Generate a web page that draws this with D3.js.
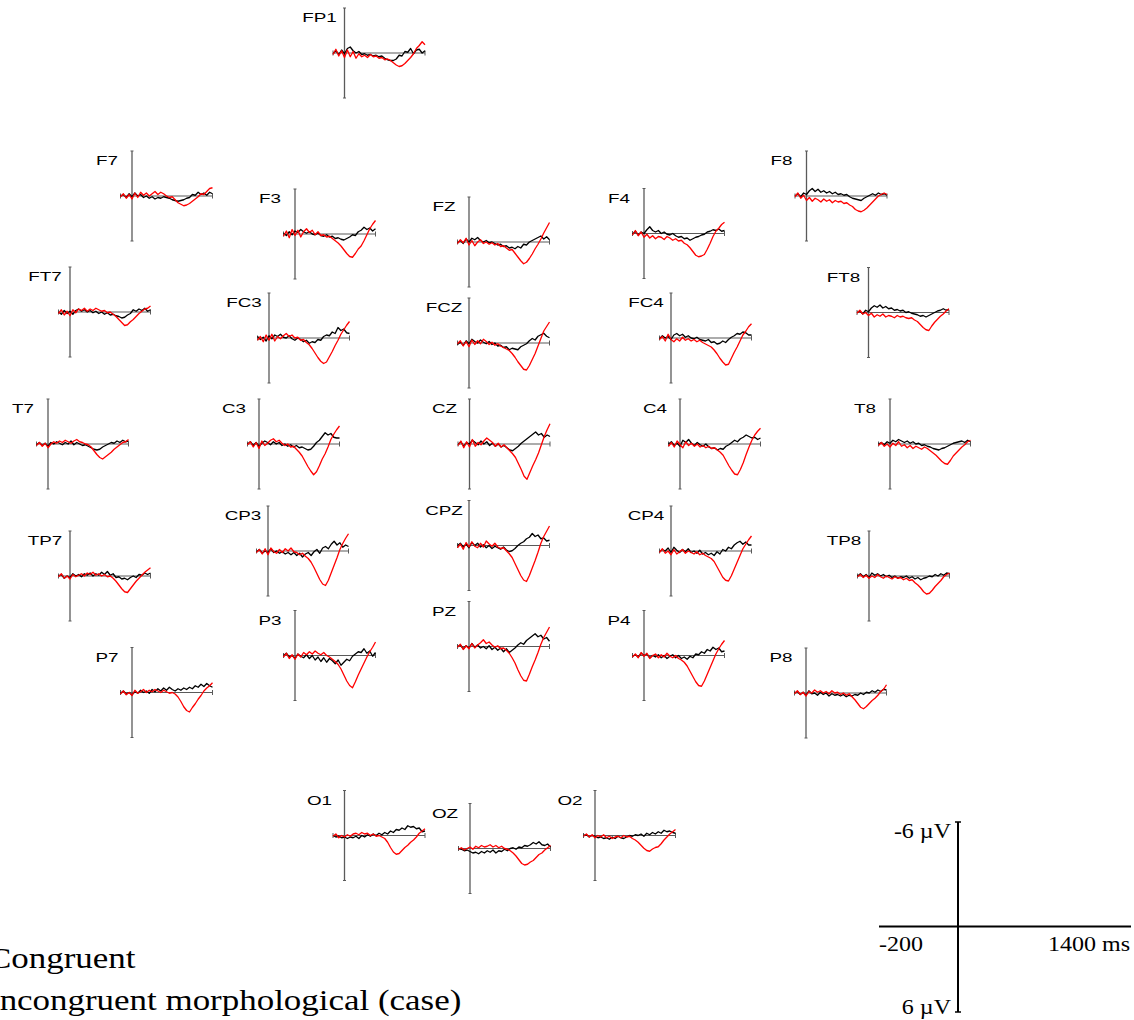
<!DOCTYPE html>
<html>
<head>
<meta charset="utf-8">
<script src="https://cdn.jsdelivr.net/npm/d3@7"></script>
<style>
  html, body { margin: 0; padding: 0; background: #fff; }
  svg { display: block; }
</style>
</head>
<body>
<svg id="chart" width="1134" height="1020"></svg>
<script>
// Sample times (ms) of the grand-average ERP waveforms
const timesMs = [-200, -150, -100, -50, 0, 50, 100, 150, 200, 250, 300, 350, 400, 450, 500, 550,
  600, 650, 700, 750, 800, 850, 900, 950, 1000, 1050, 1100, 1150, 1200, 1250, 1300, 1350, 1400];

// Electrode sites
const channels = ["FP1", "F7", "F3", "FZ", "F4", "F8", "FT7", "FC3", "FCZ", "FC4", "FT8",
  "T7", "C3", "CZ", "C4", "T8", "TP7", "CP3", "CPZ", "CP4", "TP8",
  "P7", "P3", "PZ", "P4", "P8", "O1", "OZ", "O2"];

// Condition names
const conditionNames = ["Congruent", "Incongruent morphological (case)"];

// Amplitudes (µV) for the congruent condition, per electrode
const congruent = {
  FP1: [0.1,-0.3,0.2,-0.4,0.1,-0.6,-0.8,-0.3,0.0,-0.2,0.2,0.1,0.3,0.2,0.4,0.3,0.5,0.4,0.7,0.9,1.0,1.0,0.8,0.3,0.4,-0.2,-0.1,-0.6,0.1,-0.4,-0.5,0.0,-0.3],
  F7:  [0.0,-0.2,0.2,-0.3,0.1,-0.4,0.0,-0.2,0.2,0.0,0.3,0.1,0.4,0.2,0.3,0.1,0.2,0.3,0.5,0.6,0.7,0.6,0.5,0.3,0.2,-0.2,-0.1,-0.5,-0.2,-0.4,-0.1,-0.5,-0.3],
  F3:  [-0.1,0.2,-0.3,0.1,-0.4,-0.2,-0.6,-0.3,-0.1,-0.3,0.0,0.1,-0.1,0.2,0.3,0.1,0.4,0.3,0.6,0.5,0.7,0.8,0.6,0.4,0.1,0.2,-0.3,-0.5,-0.9,-0.6,-0.8,-0.4,-0.7],
  FZ:  [0.1,-0.2,0.2,-0.4,0.0,-0.5,-0.3,-0.6,-0.2,0.0,-0.2,0.1,0.0,0.2,0.4,0.3,0.6,0.5,0.8,0.7,0.9,0.6,0.8,0.3,0.4,0.0,-0.2,-0.4,-0.6,-0.8,-0.4,-0.7,-0.3],
  F4:  [0.1,-0.3,0.2,-0.2,0.0,-0.5,-0.9,-0.4,-0.2,-0.4,0.0,-0.2,0.1,0.2,0.0,0.3,0.5,0.4,0.7,0.6,0.9,0.7,0.5,0.4,0.2,0.1,-0.2,-0.3,-0.5,-0.4,-0.6,-0.3,-0.4],
  F8:  [0.0,-0.3,0.1,-0.4,-0.2,-0.7,-1.0,-0.6,-0.9,-0.5,-0.7,-0.4,-0.6,-0.3,-0.5,-0.2,-0.3,-0.1,-0.2,0.1,0.3,0.4,0.5,0.6,0.3,0.1,-0.1,-0.3,-0.1,-0.4,-0.2,-0.3,-0.1],
  FT7: [0.0,0.3,-0.2,0.2,-0.1,0.3,-0.2,-0.4,-0.1,-0.3,0.0,-0.2,0.1,-0.1,0.2,0.0,0.3,0.1,0.4,0.3,0.5,0.6,0.8,0.7,0.4,0.2,-0.3,-0.1,-0.4,-0.2,-0.5,-0.1,-0.3],
  FC3: [-0.2,0.2,-0.1,0.4,-0.3,0.1,-0.4,-0.2,-0.5,-0.1,0.0,-0.3,0.1,0.3,0.0,0.2,0.5,0.3,0.7,0.5,0.6,0.2,0.3,-0.2,-0.4,-0.3,-0.8,-0.6,-1.4,-1.0,-1.2,-0.7,-0.6],
  FCZ: [0.2,-0.1,0.3,-0.3,0.1,-0.5,-0.2,0.0,-0.4,-0.1,0.1,-0.2,0.2,0.0,0.4,0.3,0.6,0.5,0.9,0.7,0.8,0.9,0.5,0.3,0.1,-0.3,-0.6,-0.4,-0.9,-1.1,-1.3,-0.9,-0.7],
  FC4: [0.1,-0.3,0.0,-0.2,0.2,-0.4,-0.6,-0.3,-0.5,-0.1,-0.3,0.0,0.1,-0.1,0.2,0.3,0.4,0.2,0.6,0.5,0.8,0.7,0.4,0.6,0.2,-0.1,-0.3,-0.6,-0.5,-0.8,-0.7,-0.4,-0.4],
  FT8: [0.0,-0.2,0.2,-0.3,-0.1,-0.6,-0.9,-0.7,-1.0,-0.6,-0.8,-0.5,-0.6,-0.3,-0.4,-0.2,-0.3,0.0,-0.1,0.1,0.2,0.3,0.5,0.4,0.6,0.4,0.2,0.0,-0.2,-0.3,-0.5,-0.3,-0.4],
  T7:  [0.1,-0.2,0.2,-0.1,0.3,-0.2,0.0,-0.3,-0.1,0.1,-0.2,0.0,-0.4,0.1,-0.2,0.0,0.2,0.1,0.3,0.5,0.7,0.8,0.7,0.4,0.2,0.0,-0.2,-0.1,-0.4,-0.2,-0.5,-0.3,-0.4],
  C3:  [0.0,-0.3,0.2,-0.2,0.3,-0.1,-0.4,-0.2,0.1,-0.3,0.0,-0.2,0.2,0.0,0.3,0.1,0.4,0.2,0.5,0.4,0.6,0.8,0.7,0.3,-0.2,-0.5,-1.0,-1.5,-1.2,-1.4,-0.9,-0.8,-0.8],
  CZ:  [0.1,-0.3,0.3,-0.2,0.0,-0.5,-0.2,0.1,-0.4,0.0,-0.3,0.2,-0.1,0.3,0.0,0.4,0.2,0.5,0.8,0.9,0.6,0.3,-0.1,-0.4,-0.7,-1.0,-1.3,-1.6,-1.2,-1.4,-0.9,-1.2,-1.0],
  C4:  [0.0,-0.3,0.2,-0.1,0.3,-0.5,-0.2,-0.6,-0.1,0.2,-0.2,0.1,0.3,0.0,0.4,0.6,0.5,0.8,0.6,0.7,0.3,0.1,-0.2,-0.5,-0.3,-0.7,-0.9,-1.2,-1.0,-0.8,-0.9,-0.6,-0.8],
  T8:  [0.0,-0.2,0.1,-0.3,-0.1,-0.5,-0.3,-0.6,-0.4,-0.2,-0.4,-0.1,-0.3,0.0,-0.1,0.2,0.1,0.3,0.4,0.6,0.7,0.8,0.6,0.5,0.3,0.1,-0.1,-0.2,-0.3,-0.4,-0.2,-0.5,-0.3],
  TP7: [0.0,-0.2,0.3,0.0,0.2,-0.3,0.0,-0.2,0.1,-0.3,-0.1,-0.4,0.0,-0.3,-0.1,-0.5,-0.2,-0.6,-0.1,-0.3,0.2,0.1,0.4,0.3,0.5,0.2,0.0,0.2,-0.2,-0.1,-0.4,-0.2,-0.4],
  CP3: [0.1,-0.2,0.3,0.0,0.2,-0.3,0.2,0.0,0.3,0.1,0.4,0.2,0.5,0.2,0.6,0.3,0.8,0.4,0.2,0.6,0.1,-0.2,0.3,-0.4,-0.6,-0.3,-0.9,-1.3,-0.8,-1.1,-0.5,-0.8,-0.6],
  CPZ: [0.0,-0.3,0.2,-0.2,0.3,-0.4,0.0,-0.3,0.2,-0.1,0.3,0.0,0.4,0.1,0.3,0.5,0.2,0.6,0.8,0.7,0.4,0.0,-0.3,-0.5,-0.9,-1.1,-1.6,-1.2,-1.4,-0.9,-1.0,-0.6,-0.7],
  CP4: [0.1,-0.2,0.0,-0.4,0.2,-0.5,-0.1,0.2,-0.2,0.1,-0.3,0.2,0.0,0.3,-0.1,0.4,0.2,0.5,0.3,0.6,0.1,0.4,-0.2,0.0,-0.5,-0.3,-0.8,-1.1,-1.3,-0.9,-1.2,-0.8,-0.8],
  TP8: [0.0,-0.3,0.1,-0.2,0.2,-0.4,-0.1,-0.3,0.0,-0.2,0.1,-0.1,0.2,0.0,0.3,0.1,0.2,0.0,0.3,0.1,0.4,0.2,0.5,0.3,0.2,0.0,0.1,-0.2,0.0,-0.3,-0.1,-0.4,-0.3],
  P7:  [0.1,-0.2,0.2,0.0,0.3,-0.1,0.1,-0.3,0.0,-0.2,0.1,-0.4,-0.1,-0.5,-0.2,-0.6,-0.3,-0.7,-0.4,-0.2,-0.5,-0.3,-0.6,-0.4,-0.7,-0.5,-0.9,-0.7,-1.1,-0.8,-1.2,-0.9,-0.7],
  P3:  [0.0,-0.3,0.2,0.0,0.4,-0.2,0.1,0.3,-0.1,0.4,0.0,0.6,0.2,0.8,0.3,0.9,0.4,0.7,1.1,0.6,1.3,0.9,0.5,0.7,0.1,-0.2,-0.5,-0.4,-0.9,-0.3,-0.6,0.1,-0.4],
  PZ:  [0.0,-0.2,0.3,-0.1,0.2,-0.4,0.1,-0.2,0.2,0.0,0.3,-0.1,0.4,0.1,0.5,0.2,0.7,0.3,0.8,0.5,0.2,-0.2,-0.5,-0.3,-0.8,-1.1,-1.4,-1.7,-1.3,-1.5,-1.0,-1.2,-0.7],
  P4:  [0.1,-0.1,0.2,-0.3,0.0,-0.2,0.3,0.0,0.2,-0.1,0.3,0.0,0.4,0.1,-0.1,0.3,0.0,0.4,0.2,0.5,0.1,0.3,-0.2,-0.1,-0.5,-0.3,-0.8,-0.6,-1.1,-0.8,-1.0,-0.5,-0.6],
  P8:  [0.0,-0.2,0.2,-0.1,0.3,-0.3,0.1,0.0,0.3,-0.1,0.2,0.0,0.4,0.1,0.3,0.2,0.4,0.2,0.5,0.3,0.4,0.2,0.3,0.0,0.2,-0.1,0.0,-0.3,-0.1,-0.4,-0.2,-0.5,-0.4],
  O1:  [0.0,0.2,0.1,0.3,0.2,0.4,0.2,0.3,0.1,0.4,0.0,0.2,-0.1,0.1,-0.2,0.0,-0.3,-0.1,-0.4,-0.2,-0.6,-0.4,-0.8,-0.7,-1.0,-0.8,-1.3,-1.1,-1.2,-0.9,-1.0,-0.5,-0.6],
  OZ:  [0.0,0.1,0.3,0.2,0.4,0.6,0.5,0.7,0.4,0.6,0.3,0.5,0.2,0.6,0.3,0.4,0.1,0.3,0.0,-0.1,0.1,-0.2,-0.1,-0.4,-0.3,-0.5,-0.8,-0.6,-0.9,-0.5,-0.4,-0.6,-0.2],
  O2:  [0.0,-0.1,0.2,0.0,0.1,0.3,0.2,0.4,0.3,0.5,0.2,0.4,0.1,0.3,0.4,0.2,0.0,0.1,-0.1,0.0,-0.2,0.1,-0.3,-0.1,-0.4,-0.2,-0.5,-0.3,-0.7,-0.5,-0.6,-0.4,-0.3]
};

// Amplitudes (µV) for the incongruent morphological (case) condition, per electrode
const incongruent = {
  FP1: [0.2,-0.5,0.4,-0.3,0.6,-0.4,0.5,-0.2,0.7,0.1,0.5,0.3,0.6,0.2,0.5,0.4,0.7,0.6,0.9,0.8,1.0,1.3,1.6,1.8,1.7,1.4,1.0,0.6,0.1,-0.6,-1.0,-1.5,-1.1],
  F7:  [0.1,-0.3,0.3,-0.2,0.4,-0.4,0.2,-0.5,-0.1,-0.4,0.0,-0.3,-0.6,-0.2,-0.5,-0.3,0.0,0.2,0.1,0.5,0.9,1.1,1.3,1.2,1.0,0.7,0.4,0.1,-0.3,-0.2,-0.6,-1.0,-1.1],
  F3:  [0.3,-0.4,0.5,-0.6,0.2,-0.5,0.4,-0.3,-0.7,-0.2,-0.5,0.1,-0.3,0.2,0.1,0.4,0.3,0.6,0.9,1.2,1.6,2.1,2.6,3.0,3.1,2.6,2.0,1.6,0.9,0.1,-0.7,-1.3,-1.8],
  FZ:  [0.2,-0.3,0.1,-0.5,0.4,-0.2,0.5,0.0,-0.3,0.2,0.0,0.3,0.1,0.4,0.2,0.6,0.5,0.8,1.1,1.0,1.5,2.0,2.5,2.9,2.7,2.2,1.6,0.9,0.3,-0.4,-1.2,-1.9,-2.6],
  F4:  [0.2,-0.4,0.3,-0.2,0.5,0.1,0.6,0.3,0.7,0.4,0.5,0.8,0.4,0.6,0.9,0.7,1.0,0.9,1.3,1.5,1.9,2.4,2.9,3.1,3.0,2.8,2.1,1.3,0.4,-0.3,-0.7,-1.2,-1.5],
  F8:  [0.1,-0.4,0.3,-0.1,0.6,0.2,0.7,0.3,0.5,0.8,0.4,0.7,0.5,0.9,0.6,0.8,0.7,1.0,0.9,1.2,1.4,1.8,2.0,2.1,1.9,1.6,1.2,0.8,0.4,0.0,-0.2,-0.4,-0.2],
  FT7: [0.2,-0.3,0.4,-0.1,0.5,-0.3,0.1,-0.4,-0.2,-0.5,-0.1,-0.4,-0.2,-0.5,-0.3,-0.1,-0.2,0.1,0.0,0.3,0.6,1.0,1.4,1.8,1.7,1.3,1.0,0.6,0.2,-0.1,-0.4,-0.5,-0.8],
  FC3: [0.3,-0.2,0.5,-0.4,0.3,-0.5,0.4,-0.2,0.1,-0.3,-0.6,-0.2,-0.4,0.0,-0.1,0.3,0.2,0.6,0.9,1.4,2.0,2.6,3.1,3.4,3.2,2.5,1.8,1.0,0.3,-0.5,-1.1,-1.7,-2.2],
  FCZ: [0.1,-0.3,0.4,-0.2,0.5,-0.4,0.2,-0.3,0.1,-0.5,-0.2,0.2,-0.1,0.3,0.1,0.4,0.6,0.8,1.0,1.4,1.9,2.5,3.0,3.5,3.6,3.0,2.2,1.4,0.4,-0.6,-1.6,-2.2,-2.8],
  FC4: [0.2,-0.2,0.4,-0.5,0.2,0.5,0.1,0.4,-0.1,0.3,0.1,0.4,0.2,0.5,0.3,0.6,0.8,1.0,1.2,1.6,2.1,2.7,3.2,3.6,3.5,2.7,1.9,1.2,0.4,-0.4,-0.9,-1.5,-1.9],
  FT8: [0.1,-0.3,0.2,0.0,0.4,0.1,0.6,0.3,0.5,0.2,0.6,0.4,0.5,0.7,0.4,0.6,0.5,0.7,0.8,0.7,1.0,1.2,1.6,2.0,2.3,2.4,1.8,1.3,0.9,0.5,0.2,-0.2,-0.5],
  T7:  [0.2,-0.2,0.3,-0.1,0.5,0.0,-0.3,-0.1,-0.4,-0.2,-0.5,-0.3,-0.1,-0.4,-0.6,-0.3,-0.2,0.0,0.1,0.4,0.9,1.4,1.8,2.0,1.7,1.4,1.1,0.7,0.4,0.1,-0.2,-0.3,-0.6],
  C3:  [0.1,-0.3,0.4,-0.2,0.6,-0.4,0.2,-0.1,-0.5,-0.7,-0.3,-0.5,-0.1,0.2,0.0,0.4,0.3,0.7,1.1,1.6,2.3,3.0,3.6,4.1,3.7,2.9,2.0,1.3,0.4,-0.6,-1.3,-1.9,-2.4],
  CZ:  [0.2,-0.4,0.5,-0.3,0.4,-0.6,0.3,-0.2,0.1,-0.4,-0.8,-0.5,-0.2,0.3,-0.1,0.4,0.1,0.5,0.9,1.3,1.8,2.6,3.4,4.3,4.7,3.8,2.9,2.1,1.2,0.1,-1.0,-1.9,-2.7],
  C4:  [0.3,-0.2,0.4,-0.4,0.1,0.5,-0.3,0.2,-0.1,0.3,0.0,0.4,0.2,0.5,0.3,0.6,0.5,0.8,1.1,1.5,2.2,2.9,3.5,4.0,4.1,3.4,2.5,1.4,0.4,-0.5,-1.2,-1.7,-2.1],
  T8:  [0.2,-0.2,0.3,0.0,0.4,-0.1,0.2,-0.3,0.3,0.1,0.5,0.2,0.6,0.3,0.5,0.7,0.4,0.6,0.9,1.2,1.5,1.9,2.3,2.6,2.7,2.2,1.6,1.2,0.8,0.4,0.1,-0.3,-0.5],
  TP7: [0.1,-0.3,0.3,0.0,0.4,-0.2,0.1,-0.1,-0.3,0.0,-0.4,-0.2,-0.5,-0.1,-0.3,0.0,-0.2,0.1,0.0,0.3,0.7,1.2,1.7,2.1,2.2,1.7,1.2,0.7,0.3,-0.1,-0.5,-0.8,-1.1],
  CP3: [0.2,-0.2,0.4,-0.3,0.5,-0.4,0.1,0.3,-0.2,0.2,-0.3,0.0,-0.4,0.1,0.2,0.5,0.3,0.7,1.0,1.5,2.2,3.0,3.8,4.4,4.6,3.9,2.9,1.9,0.9,-0.2,-1.0,-1.7,-2.3],
  CPZ: [0.3,-0.2,0.5,-0.4,0.2,-0.5,0.1,0.3,-0.3,0.2,-0.6,-0.2,0.1,-0.3,0.2,0.4,0.3,0.7,1.1,1.6,2.4,3.2,4.0,4.6,4.8,4.0,3.0,2.0,0.9,-0.3,-1.2,-1.9,-2.6],
  CP4: [0.2,-0.3,0.3,0.0,0.5,-0.2,0.4,0.1,-0.2,0.3,0.0,0.2,0.4,0.1,0.5,0.3,0.6,0.8,1.0,1.4,2.1,2.8,3.5,3.9,4.0,3.3,2.4,1.5,0.6,-0.3,-0.9,-1.5,-2.0],
  TP8: [0.1,-0.2,0.2,-0.1,0.3,0.0,0.2,-0.2,0.1,0.3,0.0,0.2,0.4,0.1,0.3,0.2,0.5,0.3,0.6,0.5,0.9,1.2,1.6,2.1,2.4,2.3,1.9,1.4,1.0,0.6,0.1,-0.2,-0.4],
  P7:  [0.2,-0.2,0.3,0.0,0.4,-0.3,0.1,-0.1,-0.4,0.0,-0.3,-0.1,-0.4,-0.2,0.0,-0.3,-0.1,0.1,0.0,0.2,0.6,1.2,1.9,2.4,2.6,2.0,1.5,0.9,0.4,-0.2,-0.6,-0.9,-1.3],
  P3:  [0.2,-0.3,0.4,-0.1,0.5,-0.2,0.2,-0.4,-0.1,-0.5,-0.2,-0.6,-0.3,-0.1,-0.4,0.0,0.2,0.5,0.8,1.2,1.8,2.6,3.4,4.0,4.3,3.5,2.6,1.8,1.0,0.2,-0.5,-1.1,-1.8],
  PZ:  [0.1,-0.3,0.4,-0.1,0.3,-0.4,0.2,-0.2,-0.5,-0.9,-0.4,-0.6,-0.2,0.1,-0.1,0.3,0.2,0.5,0.9,1.5,2.2,3.1,3.9,4.5,4.6,3.7,2.7,1.8,0.8,-0.3,-1.2,-1.9,-2.6],
  P4:  [0.2,-0.2,0.3,-0.4,0.1,-0.3,0.4,0.0,-0.2,0.3,-0.1,0.2,-0.3,0.1,0.3,0.0,0.4,0.6,0.9,1.4,2.1,2.8,3.5,4.0,4.1,3.4,2.5,1.6,0.7,-0.2,-0.9,-1.5,-2.0],
  P8:  [0.1,-0.3,0.2,-0.1,0.4,-0.2,0.0,-0.4,-0.1,-0.3,0.0,-0.2,0.1,-0.3,0.0,-0.1,0.2,0.0,0.3,0.1,0.5,0.9,1.4,1.9,2.1,1.8,1.4,1.0,0.7,0.3,-0.2,-0.5,-1.1],
  O1:  [0.1,-0.2,0.3,0.0,0.2,-0.1,0.1,-0.2,-0.3,-0.1,-0.4,-0.2,-0.3,0.0,-0.2,0.1,0.0,0.2,0.4,0.9,1.6,2.2,2.5,2.4,2.0,1.6,1.3,0.9,0.6,0.2,-0.3,-0.6,-0.9],
  OZ:  [0.1,-0.1,0.2,0.0,-0.2,0.1,-0.3,-0.1,-0.4,-0.2,-0.3,-0.5,-0.2,-0.4,-0.1,-0.3,0.0,0.1,0.3,0.6,1.0,1.5,2.0,2.2,2.1,1.8,1.6,1.2,0.8,0.6,0.2,-0.1,-0.4],
  O2:  [0.1,-0.2,0.2,-0.1,0.3,0.0,0.2,-0.1,0.3,0.1,0.4,0.2,0.1,0.3,0.0,0.2,0.1,0.4,0.6,0.9,1.3,1.7,2.0,2.1,1.8,1.6,1.5,1.1,0.6,0.2,-0.2,-0.5,-0.8]
};

// Calibration bar labels
const calibLabels = { top: "-6 µV", bottom: "6 µV", left: "-200", right: "1400 ms" };

// Montage layout: x of the 0 ms line and y of the 0 µV line of each panel
const montage = {
  FP1: [344.5, 53],
  F7: [132, 196], F3: [295, 234], FZ: [469, 242], F4: [644, 233.5], F8: [806.5, 196],
  FT7: [70, 312], FC3: [269, 338], FCZ: [469, 343], FC4: [671, 338], FT8: [868.5, 312.5],
  T7: [48, 444], C3: [259, 444], CZ: [469.5, 444], C4: [680, 444], T8: [890, 444],
  TP7: [70, 576], CP3: [268, 551], CPZ: [469, 545.5], CP4: [671, 551], TP8: [869, 576],
  P7: [132, 692.5], P3: [295, 655.5], PZ: [469, 646.5], P4: [644, 655.5], P8: [806, 693],
  O1: [344.5, 835.5], OZ: [470, 848.5], O2: [595, 835.5]
};

const svg = d3.select("#chart");
const sans = "'Liberation Sans', Arial, Helvetica, sans-serif";
const serif = "'Liberation Serif', 'Times New Roman', Times, serif";
const axisColor = "#5a5a5a";
const traceColors = ["#000000", "#ff0000"];

const timeExtent = [-200, 1400];
const ampExtent = [-6, 6];   // negative up

channels.forEach(ch => {
  const [ax, by] = montage[ch];
  const x = d3.scaleLinear().domain(timeExtent).range([ax - 11.5, ax + 80.5]);
  const y = d3.scaleLinear().domain(ampExtent).range([by - 45, by + 45]);
  const g = svg.append("g").attr("class", "panel");

  // zero-amplitude line with end ticks
  g.append("line")
    .attr("x1", x(timeExtent[0])).attr("x2", x(timeExtent[1]))
    .attr("y1", y(0)).attr("y2", y(0))
    .attr("stroke", axisColor).attr("stroke-width", 1.1);
  [timeExtent[0], timeExtent[1]].forEach(t => {
    g.append("line")
      .attr("x1", x(t)).attr("x2", x(t))
      .attr("y1", y(0) - 2.5).attr("y2", y(0) + 2.5)
      .attr("stroke", axisColor).attr("stroke-width", 1);
  });

  // stimulus-onset axis with end caps
  g.append("line")
    .attr("x1", x(0)).attr("x2", x(0))
    .attr("y1", y(ampExtent[0])).attr("y2", y(ampExtent[1]))
    .attr("stroke", axisColor).attr("stroke-width", 1.3);
  ampExtent.forEach(v => {
    g.append("line")
      .attr("x1", x(0) - 1.5).attr("x2", x(0) + 1.5)
      .attr("y1", y(v)).attr("y2", y(v))
      .attr("stroke", axisColor).attr("stroke-width", 1);
  });

  // electrode label
  g.append("text")
    .attr("transform", `translate(${x(0) - 25},${y(0) - 31}) scale(1.45,1)`)
    .attr("text-anchor", "middle")
    .attr("font-family", sans)
    .attr("font-size", 13)
    .attr("fill", "#000")
    .text(ch);

  // waveforms
  const line = d3.line()
    .x((d, i) => x(timesMs[i]))
    .y(d => y(d));
  [congruent[ch], incongruent[ch]].forEach((vals, k) => {
    g.append("path")
      .datum(vals)
      .attr("d", line)
      .attr("fill", "none")
      .attr("stroke", traceColors[k])
      .attr("stroke-width", 1.3)
      .attr("stroke-linejoin", "round");
  });
});

// Calibration bar
const cal = svg.append("g").attr("class", "calibration");
const cx0 = 958, cy0 = 926.5;
cal.append("line").attr("x1", 879).attr("x2", 1131).attr("y1", cy0).attr("y2", cy0)
  .attr("stroke", "#000").attr("stroke-width", 2);
cal.append("line").attr("x1", cx0).attr("x2", cx0).attr("y1", 822).attr("y2", 1012)
  .attr("stroke", "#000").attr("stroke-width", 2);
[822, 1012].forEach(yy => {
  cal.append("line").attr("x1", cx0 - 3).attr("x2", cx0 + 3).attr("y1", yy).attr("y2", yy)
    .attr("stroke", "#000").attr("stroke-width", 1.5);
});
function calText(txt, tx, ty, anchor) {
  cal.append("text")
    .attr("transform", `translate(${tx},${ty}) scale(1.2,1)`)
    .attr("text-anchor", anchor)
    .attr("font-family", serif)
    .attr("font-size", 20)
    .attr("fill", "#000")
    .text(txt);
}
calText(calibLabels.top, 951, 838, "end");
calText(calibLabels.bottom, 951, 1014, "end");
calText(calibLabels.left, 879, 951, "start");
calText(calibLabels.right, 1130, 951, "end");

// Condition legend
const legend = svg.append("g").attr("class", "legend");
conditionNames.forEach((name, i) => {
  legend.append("text")
    .attr("transform", `translate(-12,${968 + i * 42}) scale(1.165,1)`)
    .attr("font-family", serif)
    .attr("font-size", 30)
    .attr("fill", "#000")
    .text(i === 0 ? name : name);
});
</script>
</body>
</html>
